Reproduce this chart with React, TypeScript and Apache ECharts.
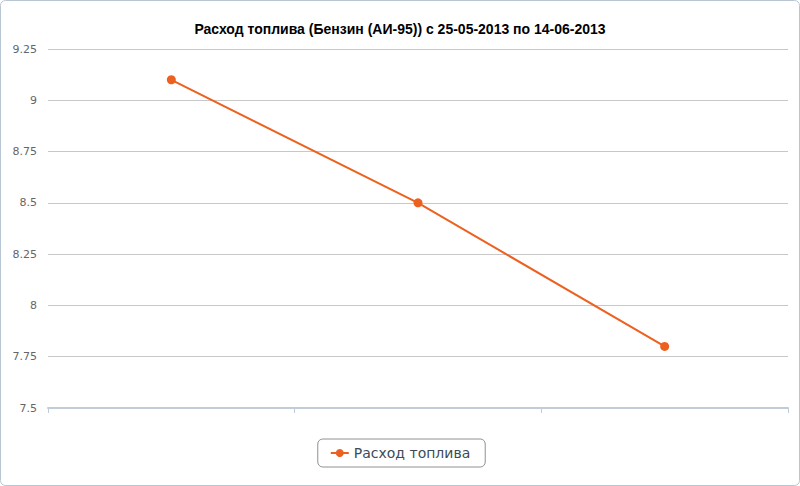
import React, { useEffect, useRef } from 'react';
import * as echarts from 'echarts';

const categories = ['25-05-2013', '04-06-2013', '14-06-2013'];
const fuelValues = [9.1, 8.5, 7.8];
const seriesName = 'Расход топлива';
const titleText = 'Расход топлива (Бензин (АИ-95)) с 25-05-2013 по 14-06-2013';

const App: React.FC = () => {
  const chartRef = useRef<HTMLDivElement>(null);

  useEffect(() => {
    if (!chartRef.current) return;

    const chart = echarts.init(chartRef.current, undefined, { renderer: 'svg' });

    const options: echarts.EChartsOption = {
      animation: false,
      backgroundColor: '#ffffff',
      title: {
        text: titleText,
        left: 'center',
        top: 17,
        textStyle: {
          fontFamily: 'Liberation Sans, Arial, sans-serif',
          fontSize: 14,
          fontWeight: 'bold',
          color: '#000000'
        }
      },
      graphic: [{
        type: 'rect',
        shape: { x: 0.5, y: 0.5, width: 799, height: 485, r: 5 },
        style: { fill: 'none', stroke: '#b8c6d4', lineWidth: 1 },
        silent: true
      }],
      grid: {
        left: 48,
        right: 12,
        top: 49,
        bottom: 78
      },
      legend: {
        bottom: 19,
        left: 'center',
        borderColor: '#909090',
        borderWidth: 1,
        borderRadius: 5,
        padding: [7, 15, 7, 12],
        itemWidth: 18,
        itemHeight: 10,
        itemGap: 6,
        textStyle: {
          fontFamily: 'DejaVu Sans, sans-serif',
          fontSize: 14,
          color: '#3e4a56'
        },
        data: [seriesName]
      },
      xAxis: {
        type: 'category',
        data: categories,
        boundaryGap: true,
        axisLine: { lineStyle: { color: '#c0ccd8', width: 2 } },
        axisTick: { show: true, length: 5, lineStyle: { color: '#c0ccd8', width: 1 } },
        axisLabel: { show: false },
        splitLine: { show: false }
      },
      yAxis: {
        type: 'value',
        min: 7.5,
        max: 9.25,
        interval: 0.25,
        axisLine: { show: false },
        axisTick: { show: false },
        axisLabel: {
          margin: 11,
          fontFamily: 'DejaVu Sans, sans-serif',
          fontSize: 11,
          color: '#666666'
        },
        splitLine: { lineStyle: { color: '#c8c8c8', width: 1 } }
      },
      series: [{
        name: seriesName,
        type: 'line',
        data: fuelValues,
        symbol: 'circle',
        symbolSize: 9,
        itemStyle: { color: '#ed6120' },
        lineStyle: { color: '#ed6120', width: 2 }
      }]
    };

    chart.setOption(options);

    return () => {
      chart.dispose();
    };
  }, []);

  return (
    <div
      ref={chartRef}
      style={{ position: 'fixed', left: 0, top: 0, width: 800, height: 486 }}
    />
  );
};

export default App;
